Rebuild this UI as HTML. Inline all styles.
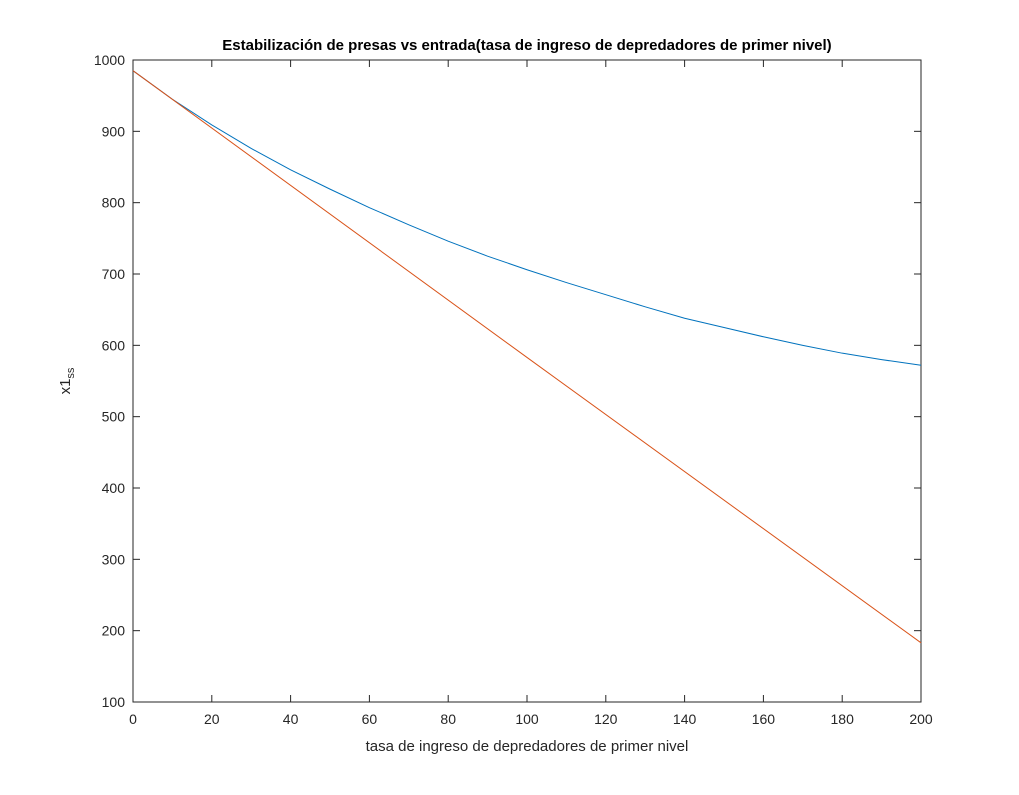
<!DOCTYPE html>
<html><head><meta charset="utf-8"><style>
body{margin:0;background:#fff;}
svg text{font-family:"Liberation Sans",Arial,sans-serif;}
</style></head><body>
<svg id="chart" width="1019" height="790" xmlns="http://www.w3.org/2000/svg">
<rect x="0" y="0" width="1019" height="790" fill="#fff"/>
<g id="plot"></g>
</svg>
<script>
const xTicks=[0,20,40,60,80,100,120,140,160,180,200];
const yTicks=[100,200,300,400,500,600,700,800,900,1000];
const blueX=[0,10,20,30,40,50,60,70,80,90,100,110,120,130,140,150,160,170,180,190,200];
const blueY=[985,945,909,876,846,819,793,769,746,725,706,688,671,654,638,625,612,600,589,580,572];
const redX=[0,100,200];
const redY=[985,583,183];
const L=133,R=921,T=60,B=702;
const xs=v=>L+(v-0)/(200-0)*(R-L);
const ys=v=>B-(v-100)/(1000-100)*(B-T);
const NS="http://www.w3.org/2000/svg";
const g=document.getElementById('plot');
function mk(t,a,txt){const e=document.createElementNS(NS,t);for(const k in a)e.setAttribute(k,a[k]);if(txt!==undefined)e.textContent=txt;g.appendChild(e);return e;}
let ax=mk('rect',{x:L,y:T,width:R-L,height:B-T,fill:'#fff',stroke:'#262626','stroke-width':1});


xTicks.forEach(v=>{const x=xs(v);
 let t=mk('line',{x1:x,x2:x,y1:B,y2:B-7,stroke:'#262626'});
 
 
 let t2=mk('line',{x1:x,x2:x,y1:T,y2:T+7,stroke:'#262626'});
 
 
 let l=mk('text',{x:x,y:B+22,'text-anchor':'middle','font-size':14,fill:'#262626'},v);
 
 });
yTicks.forEach(v=>{const y=ys(v);
 let t=mk('line',{x1:L,x2:L+7,y1:y,y2:y,stroke:'#262626'});
 
 
 let t2=mk('line',{x1:R,x2:R-7,y1:y,y2:y,stroke:'#262626'});
 
 
 let l=mk('text',{x:L-8,y:y+5,'text-anchor':'end','font-size':14,fill:'#262626'},v);
 
 });
let pb=mk('polyline',{points:blueX.map((x,i)=>xs(x)+','+ys(blueY[i])).join(' '),fill:'none',stroke:'#0072bd','stroke-width':1});


let pr=mk('polyline',{points:redX.map((x,i)=>xs(x)+','+ys(redY[i])).join(' '),fill:'none',stroke:'#d95319','stroke-width':1});


let ti=mk('text',{x:(L+R)/2,y:50,'text-anchor':'middle','font-size':15,'font-weight':'bold',fill:'#000'},'Estabilización de presas vs entrada(tasa de ingreso de depredadores de primer nivel)');


let xl=mk('text',{x:(L+R)/2,y:751,'text-anchor':'middle','font-size':15,fill:'#262626'},'tasa de ingreso de depredadores de primer nivel');


let yl=mk('text',{x:0,y:0,'text-anchor':'middle','font-size':15,fill:'#262626',transform:'translate(70,381) rotate(-90)'});


yl.innerHTML='x1<tspan font-size="11" dy="4">ss</tspan>';
</script>
</body></html>
